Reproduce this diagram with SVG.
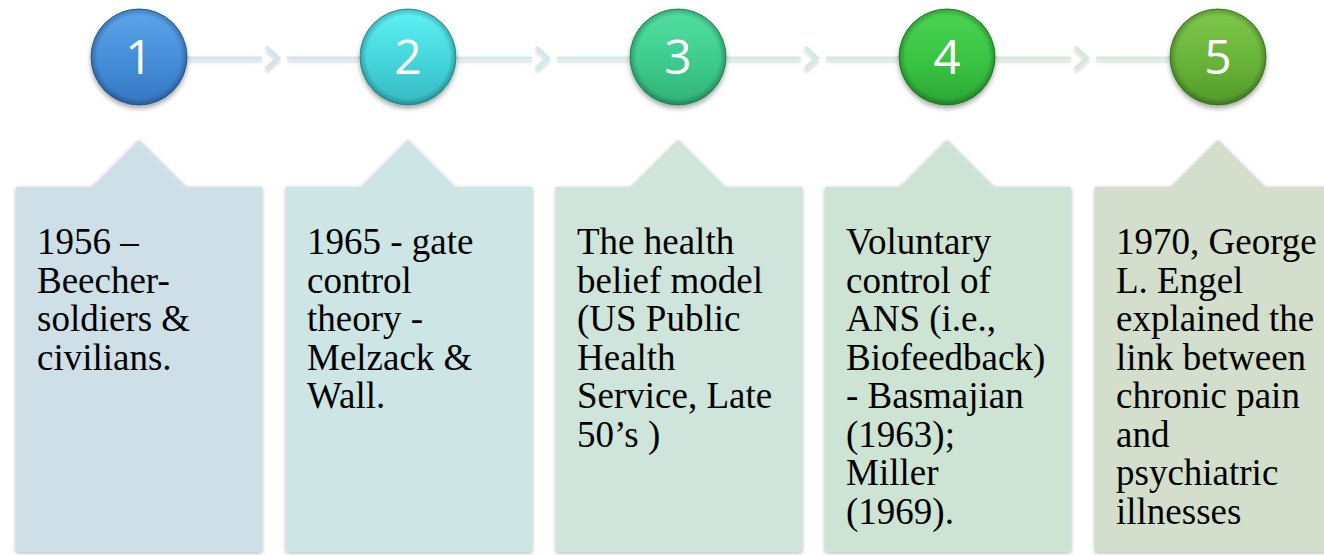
<svg xmlns="http://www.w3.org/2000/svg" width="1324" height="555" viewBox="0 0 1324 555">
<defs>
<filter id="sh" x="-20%" y="-20%" width="140%" height="140%">
<feGaussianBlur in="SourceAlpha" stdDeviation="2.5"/>
<feOffset dx="0" dy="3" result="b"/>
<feComponentTransfer><feFuncA type="linear" slope="0.35"/></feComponentTransfer>
<feMerge><feMergeNode/><feMergeNode in="SourceGraphic"/></feMerge>
</filter>
<filter id="bsh" x="-5%" y="-5%" width="110%" height="110%">
<feGaussianBlur in="SourceAlpha" stdDeviation="2"/>
<feOffset dx="0" dy="1" result="b"/>
<feComponentTransfer><feFuncA type="linear" slope="0.3"/></feComponentTransfer>
<feMerge><feMergeNode/><feMergeNode in="SourceGraphic"/></feMerge>
</filter>
<filter id="csh" x="-20%" y="-20%" width="140%" height="160%">
<feGaussianBlur in="SourceAlpha" stdDeviation="1.5"/>
<feOffset dx="0" dy="3" result="b"/>
<feComponentTransfer><feFuncA type="linear" slope="0.15"/></feComponentTransfer>
<feMerge><feMergeNode/><feMergeNode in="SourceGraphic"/></feMerge>
</filter>
<linearGradient id="g1" x1="0" y1="0" x2="0" y2="1"><stop offset="0" stop-color="#5ba6ec"/><stop offset="0.6" stop-color="#438bd6"/><stop offset="1" stop-color="#3576c0"/></linearGradient>
<linearGradient id="g2" x1="0" y1="0" x2="0" y2="1"><stop offset="0" stop-color="#5ef2f6"/><stop offset="0.6" stop-color="#42d2d8"/><stop offset="1" stop-color="#35b8c0"/></linearGradient>
<linearGradient id="g3" x1="0" y1="0" x2="0" y2="1"><stop offset="0" stop-color="#52e0a2"/><stop offset="0.6" stop-color="#3cc98b"/><stop offset="1" stop-color="#30b077"/></linearGradient>
<linearGradient id="g4" x1="0" y1="0" x2="0" y2="1"><stop offset="0" stop-color="#4ad452"/><stop offset="0.6" stop-color="#38c141"/><stop offset="1" stop-color="#2ca534"/></linearGradient>
<linearGradient id="g5" x1="0" y1="0" x2="0" y2="1"><stop offset="0" stop-color="#7ec84c"/><stop offset="0.6" stop-color="#66b137"/><stop offset="1" stop-color="#52982a"/></linearGradient>
<radialGradient id="rim" cx="0.5" cy="0.5" r="0.5"><stop offset="0.86" stop-color="#000" stop-opacity="0"/><stop offset="1" stop-color="#000" stop-opacity="0.25"/></radialGradient>
</defs>
<style>
.num{font-family:"Open Sans","Noto Sans",sans-serif;font-size:48px;fill:#fff;text-anchor:middle}
.t{font-family:"Liberation Serif","Times New Roman",serif;font-size:37px;fill:#000}
.ln{stroke-width:3;fill:none}
.ch{stroke-width:4;fill:none;stroke-linecap:butt}
</style>
<g id="connectors">
<g stroke="#d3e3ef" filter="url(#csh)"><path class="ln" d="M186 58H262M287 58H360"/><path class="ch" d="M266 47L278 58L266 69"/></g>
<g stroke="#d2e9ec" filter="url(#csh)"><path class="ln" d="M456 58H532M557 58H630"/><path class="ch" d="M536 47L548 58L536 69"/></g>
<g stroke="#d2eae1" filter="url(#csh)"><path class="ln" d="M726 58H801M826 58H899"/><path class="ch" d="M805 47L817 58L805 69"/></g>
<g stroke="#d5e9d8" filter="url(#csh)"><path class="ln" d="M995 58H1071M1096 58H1170"/><path class="ch" d="M1075 47L1087 58L1075 69"/></g>
</g>
<g id="node1">
<path d="M16 187H92L139 140L186 187H262V552H16Z" fill="#cedfe7" filter="url(#bsh)"/>
<g filter="url(#sh)"><circle cx="139" cy="57" r="48" fill="url(#g1)" stroke="#2f6aa8" stroke-width="1"/><circle cx="139" cy="57" r="48" fill="url(#rim)"/></g>
<text class="num" x="139" y="74">1</text>
<text class="t"><tspan x="37" y="254">1956 –</tspan><tspan x="37" y="292.5">Beecher-</tspan><tspan x="37" y="331">soldiers &amp;</tspan><tspan x="37" y="369.5">civilians.</tspan></text>
</g>
<g id="node2">
<path d="M286 187H361L408 140L455 187H532V552H286Z" fill="#cde5e4" filter="url(#bsh)"/>
<g filter="url(#sh)"><circle cx="408" cy="57" r="48" fill="url(#g2)" stroke="#2ea3aa" stroke-width="1"/><circle cx="408" cy="57" r="48" fill="url(#rim)"/></g>
<text class="num" x="408" y="74">2</text>
<text class="t"><tspan x="307" y="254">1965 - gate</tspan><tspan x="307" y="292.5">control</tspan><tspan x="307" y="331">theory -</tspan><tspan x="307" y="369.5">Melzack &amp;</tspan><tspan x="307" y="408">Wall.</tspan></text>
</g>
<g id="node3">
<path d="M556 187H631L678 140L725 187H802V552H556Z" fill="#cfe4da" filter="url(#bsh)"/>
<g filter="url(#sh)"><circle cx="678" cy="57" r="48" fill="url(#g3)" stroke="#2a9a68" stroke-width="1"/><circle cx="678" cy="57" r="48" fill="url(#rim)"/></g>
<text class="num" x="678" y="74">3</text>
<text class="t"><tspan x="577" y="254">The health</tspan><tspan x="577" y="292.5">belief model</tspan><tspan x="577" y="331">(US Public</tspan><tspan x="577" y="369.5">Health</tspan><tspan x="577" y="408">Service, Late</tspan><tspan x="577" y="446.5">50’s )</tspan></text>
</g>
<g id="node4">
<path d="M825 187H900L947 140L994 187H1071V552H825Z" fill="#cde3d4" filter="url(#bsh)"/>
<g filter="url(#sh)"><circle cx="947" cy="57" r="48" fill="url(#g4)" stroke="#25902c" stroke-width="1"/><circle cx="947" cy="57" r="48" fill="url(#rim)"/></g>
<text class="num" x="947" y="74">4</text>
<text class="t"><tspan x="846" y="254">Voluntary</tspan><tspan x="846" y="292.5">control of</tspan><tspan x="846" y="331">ANS (i.e.,</tspan><tspan x="846" y="369.5">Biofeedback)</tspan><tspan x="846" y="408">- Basmajian</tspan><tspan x="846" y="446.5">(1963);</tspan><tspan x="846" y="485">Miller</tspan><tspan x="846" y="523.5">(1969).</tspan></text>
</g>
<g id="node5">
<path d="M1095 187H1171L1218 140L1265 187H1341V552H1095Z" fill="#d3deCD" filter="url(#bsh)"/>
<g filter="url(#sh)"><circle cx="1218" cy="57" r="48" fill="url(#g5)" stroke="#4a8a26" stroke-width="1"/><circle cx="1218" cy="57" r="48" fill="url(#rim)"/></g>
<text class="num" x="1218" y="74">5</text>
<text class="t"><tspan x="1116" y="254">1970, George</tspan><tspan x="1116" y="292.5">L. Engel</tspan><tspan x="1116" y="331">explained the</tspan><tspan x="1116" y="369.5">link between</tspan><tspan x="1116" y="408">chronic pain</tspan><tspan x="1116" y="446.5">and</tspan><tspan x="1116" y="485">psychiatric</tspan><tspan x="1116" y="523.5">illnesses</tspan></text>
</g>
</svg>
